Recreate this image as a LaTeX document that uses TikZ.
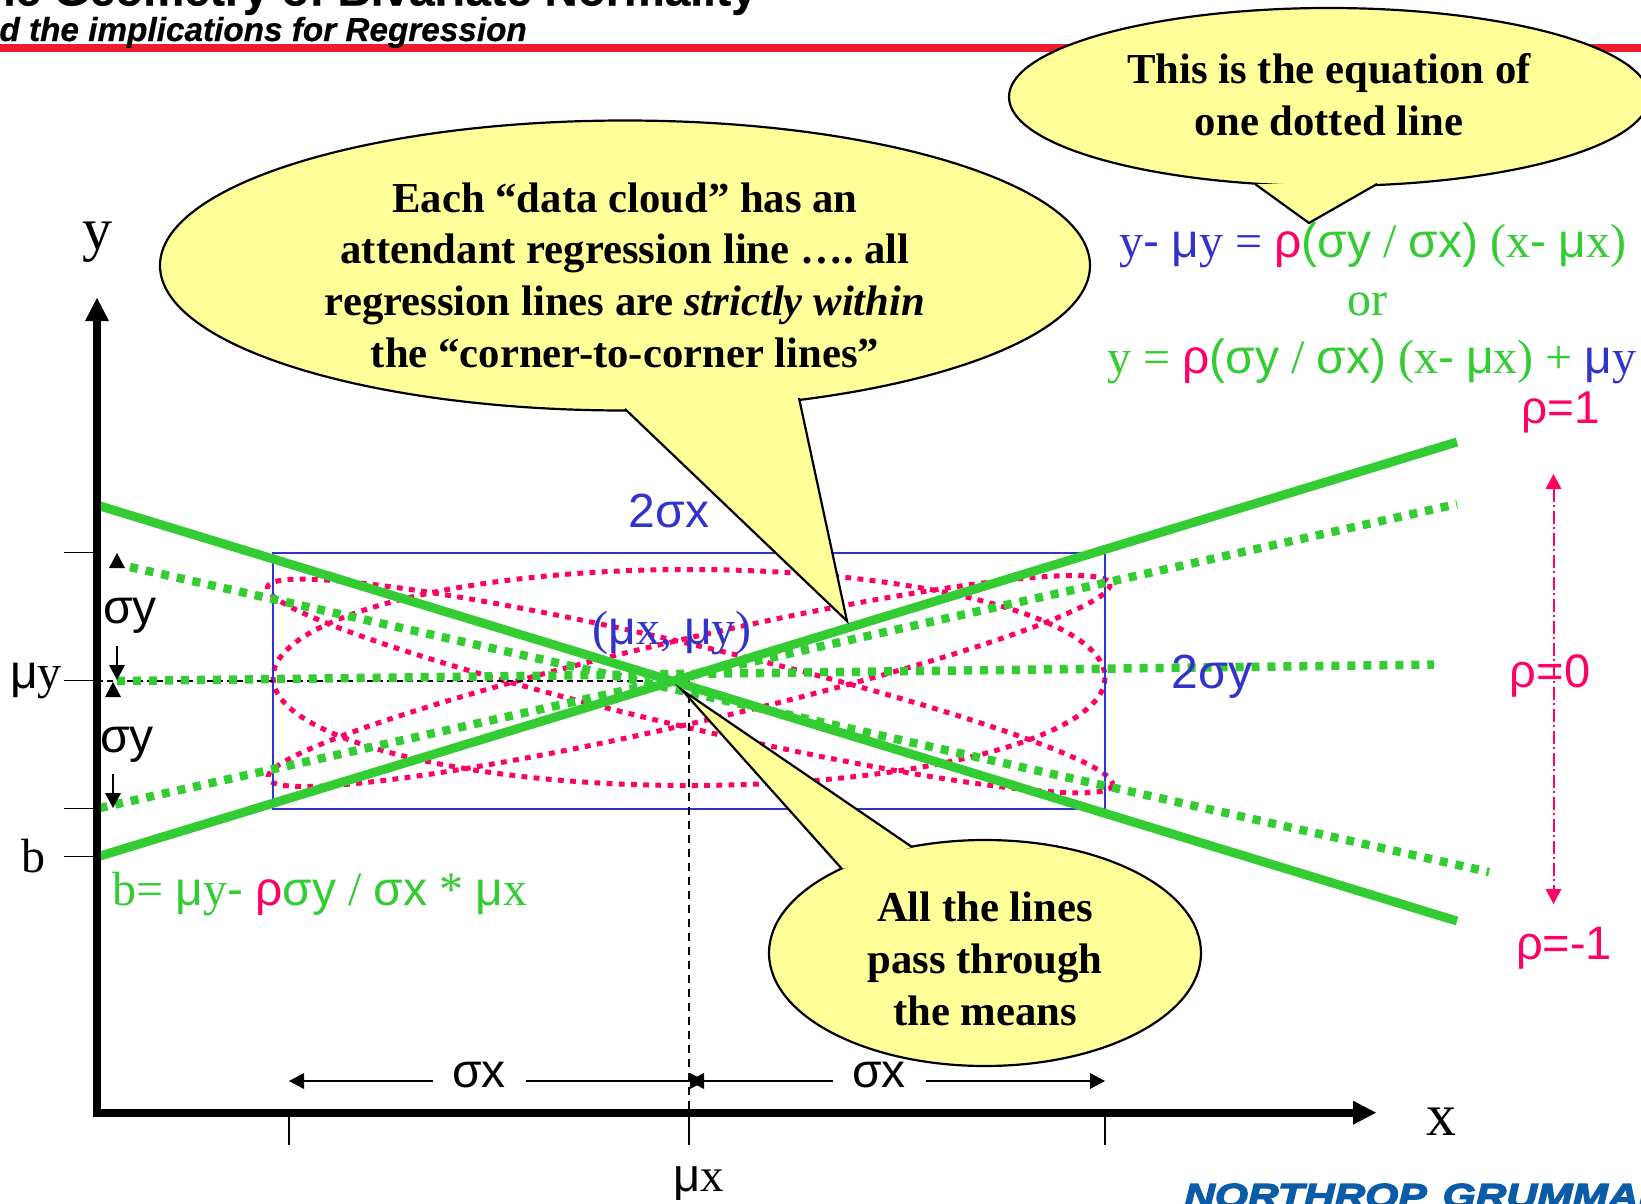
\documentclass[tikz,border=0pt]{standalone}
\usepackage{fontspec}
\setmainfont{Liberation Serif}
\setsansfont{Liberation Sans}
\newfontfamily\hdfont[FakeBold=0.5]{Liberation Sans}
\newfontfamily\logofont[FakeBold=4,FakeStretch=1.25]{Liberation Sans}
\definecolor{gr}{HTML}{33CC33}
\definecolor{bl}{HTML}{3333CC}
\definecolor{pk}{HTML}{FF0066}
\definecolor{yl}{HTML}{FFFF99}
\definecolor{rd}{HTML}{EE1C2E}
\definecolor{lg}{HTML}{0A5CA8}
\newcommand{\sz}[1]{\fontsize{#1}{#1}\selectfont}
\newcommand{\sa}[1]{{\sffamily #1}}
\newcommand{\tightsp}{\spaceskip=10.7pt\relax\xspaceskip=10.7pt\relax}
\tikzset{
 x=1pt,y=-1pt,
 solidg/.style={gr,line width=9pt},
 dotg/.style={gr,line width=8.5pt,dash pattern=on 8pt off 7.98pt},
 dotr/.style={pk,line width=5pt,dash pattern=on 5.8pt off 6.4pt},
 tick/.style={black,line width=1.5pt},
 dimline/.style={black,line width=1.4pt},
 balloon/.style={fill=yl,draw=black,line width=2.2pt},
 ballfill/.style={fill=yl},
 balltxt/.style={font=\bfseries\sz{42.7},align=center,text width=640pt,inner sep=0pt},
 lab/.style={inner sep=0pt,anchor=base},
 head/.style={fill=black},
}
\begin{document}
\begin{tikzpicture}
\useasboundingbox (0,0) rectangle (1641,1203);
\clip (0,0) rectangle (1641,1203);
\fill[white] (0,0) rectangle (1641,1203);
% header
\fill[rd] (0,43.5) rectangle (1641,52);
\node[inner sep=0pt,anchor=base east,font=\hdfont\bfseries\sz{46}] (title) at (757,5.5) {he Geometry of Bivariate Normality};
\node[inner sep=0pt,anchor=base east,font=\hdfont\bfseries\itshape\sz{33.3}] (sub) at (527,41) {d the implications for Regression};
% red ellipses
\draw[dotr] (689,677.5) ellipse [x radius=416,y radius=108];
\draw[dotr,shift={(689,681)},rotate=13] (0,0) ellipse [x radius=432,y radius=42];
\draw[dotr,shift={(690,686)},rotate=-13.2] (0,0) ellipse [x radius=434,y radius=41];
% blue box
\draw[bl,line width=1.6pt] (273,552.7) rectangle (1105,808.7);
% guide lines
\coordinate (yh) at (97,680.7); \coordinate (cen) at (689,680.7); \coordinate (xv) at (689,1112);
\draw[black,line width=1.6pt,dash pattern=on 6pt off 4pt] (yh) -- (cen);
\draw[black,line width=1.5pt,dash pattern=on 8pt off 6pt] (cen) -- (xv);
% green lines
\coordinate (a1) at (100,856); \coordinate (a2) at (1457,442);
\coordinate (b1) at (100,506); \coordinate (b2) at (1457,921);
\coordinate (c1) at (99.5,808); \coordinate (c2) at (1457,504);
\coordinate (d1) at (130,567); \coordinate (d2) at (1489,872);
\coordinate (e1) at (117,681); \coordinate (e2) at (1434,664.6);
\draw[dotg] (c1) -- (c2);
\draw[dotg] (d1) -- (d2);
\draw[dotg] (e1) -- (e2);
\draw[solidg] (a1) -- (a2);
\draw[solidg] (b1) -- (b2);
% axes
\fill[black] (93.3,321) rectangle (100.7,1116.7);
\fill[black] (93.3,1108.7) rectangle (1353,1116.7);
\fill[black] (97,298) -- (109,321) -- (85,321) -- cycle;
\fill[black] (1376,1112.7) -- (1353,1100.7) -- (1353,1124.7) -- cycle;
% ticks
\foreach \yy in {552.7,680.7,808.7,856.7} \draw[tick] (64,\yy) -- (93,\yy);
\foreach \xx in {289,689,1105} \draw[tick] (\xx,1116) -- (\xx,1145);
% sigma y arrows
\fill[head] (117,553) -- (125,568) -- (109,568) -- cycle;
\draw[dimline] (117,646) -- (117,665);
\fill[head] (117,680) -- (125,665) -- (109,665) -- cycle;
\fill[head] (113,682) -- (121,697) -- (105,697) -- cycle;
\draw[dimline] (113,774) -- (113,793);
\fill[head] (113,808) -- (121,793) -- (105,793) -- cycle;
% sigma x arrows
\draw[dimline] (304,1081) -- (433,1081);
\fill[head] (289,1081) -- (304,1073) -- (304,1089) -- cycle;
\draw[dimline] (526,1081) -- (690,1081);
\fill[head] (705,1081) -- (690,1073) -- (690,1089) -- cycle;
\fill[head] (689,1081) -- (704,1073) -- (704,1089) -- cycle;
\draw[dimline] (704,1081) -- (833,1081);
\draw[dimline] (926,1081) -- (1090,1081);
\fill[head] (1105,1081) -- (1090,1073) -- (1090,1089) -- cycle;
% rho arrow
\draw[pk,line width=2pt,dash pattern=on 13pt off 3pt on 1.5pt off 4.5pt] (1553.5,489) -- (1553.5,889);
\fill[pk] (1553.5,474) -- (1561.5,489) -- (1545.5,489) -- cycle;
\fill[pk] (1553.5,904) -- (1561.5,889) -- (1545.5,889) -- cycle;
% labels
\node[lab,font=\sz{60}] (ylab) at (97,249) {y};
\node[lab,font=\sz{60}] (xlab) at (1441,1135) {x};
\node[lab,font=\sz{47}] (mux) at (699,1191) {\sa{μ}x};
\node[lab,font=\sz{48}] (muy) at (36,688) {\sa{μ}y};
\node[lab,font=\sz{48}] (blab) at (33,872) {b};
\node[lab,font=\sffamily\sz{48}] (sy1) at (130,623) {σy};
\node[lab,font=\sffamily\sz{48}] (sy2) at (127,752) {σy};
\node[lab,font=\sffamily\sz{48}] (sx1) at (479,1087.5) {σx};
\node[lab,font=\sffamily\sz{48}] (sx2) at (879,1087.5) {σx};
\node[lab,font=\sffamily\sz{48},text=bl] (tsx) at (669,527) {2σx};
\node[lab,font=\sffamily\sz{48},text=bl] (tsy) at (1212,688) {2σy};
\node[lab,font=\sz{48},text=bl] (mm) at (672,644) {(\sa{μ}x, \sa{μ}y)};
\node[lab,font=\sffamily\sz{46},text=pk] (r1) at (1561,423) {ρ=1};
\node[lab,font=\sffamily\sz{47},text=pk] (r0) at (1550,687) {ρ=0};
\node[lab,font=\sffamily\sz{47},text=pk] (rm) at (1564,959) {ρ=-1};
\node[lab,font=\sz{48},text=gr] (eqb) at (320,905) {b= \sa{μ}y\sa{-} \textcolor{pk}{\sa{ρ}}\sa{σy} / \sa{σx} * \sa{μ}x};
\node[lab,font=\sz{48},text=bl] (eq1) at (1373,257) {y\sa{-} \sa{μ}y = \textcolor{pk}{\sa{ρ}}\textcolor{gr}{\sa{(σy} / \sa{σx)} (x\sa{-} \sa{μ}x)}};
\node[lab,font=\sz{48},text=gr] (eq2) at (1367,315) {or};
\node[lab,font=\sz{48},text=gr] (eq3) at (1372,373) {y = \textcolor{pk}{\sa{ρ}}\sa{(σy} / \sa{σx)} (x\sa{-} \sa{μ}x) + \textcolor{bl}{\sa{μ}y}};
% logo
\node[inner sep=0pt,anchor=base west,text=lg,font=\logofont\bfseries\itshape\sz{34}] (logo) at (1184,1207.5) {NORTHROP\hspace{16pt}GRUMMAN};
% balloons
\draw[balloon] (1329,97) ellipse [x radius=320,y radius=89];
\coordinate (t1a) at (1255,184); \coordinate (t1) at (1309,223); \coordinate (t1b) at (1377,184);
\fill[ballfill] (t1a) -- (t1) -- (t1b) -- cycle;
\draw[balloon,fill=none,line join=miter] (t1a) -- (t1) -- (t1b);
\node[balltxt] (bt1) at (1329,95) {\tightsp This is the equation of\\[9pt]one dotted line};

\draw[balloon] (625,265.5) ellipse [x radius=465,y radius=145];
\coordinate (t2a) at (625,409); \coordinate (t2) at (847,621); \coordinate (t2b) at (799,398);
\fill[ballfill] (t2a) -- (t2) -- (t2b) -- cycle;
\draw[balloon,fill=none] (t2a) -- (t2) -- (t2b);
\node[balltxt] (bt2) at (625,275) {\tightsp Each “data cloud” has an\\[9pt]attendant regression line …. all\\[9pt]regression lines are \textit{strictly within}\\[9pt]the “corner-to-corner lines”};

\draw[balloon] (985,953) ellipse [x radius=216,y radius=113];
\coordinate (t3a) at (842,869); \coordinate (t3) at (682,690); \coordinate (t3b) at (912,847);
\fill[ballfill] (t3a) -- (t3) -- (t3b) -- cycle;
\draw[balloon,fill=none] (t3a) -- (t3) -- (t3b);
\node[balltxt,text width=400pt] (bt3) at (985,959) {\tightsp All the lines\\[9pt]pass through\\[9pt]the means};
\end{tikzpicture}
\end{document}
